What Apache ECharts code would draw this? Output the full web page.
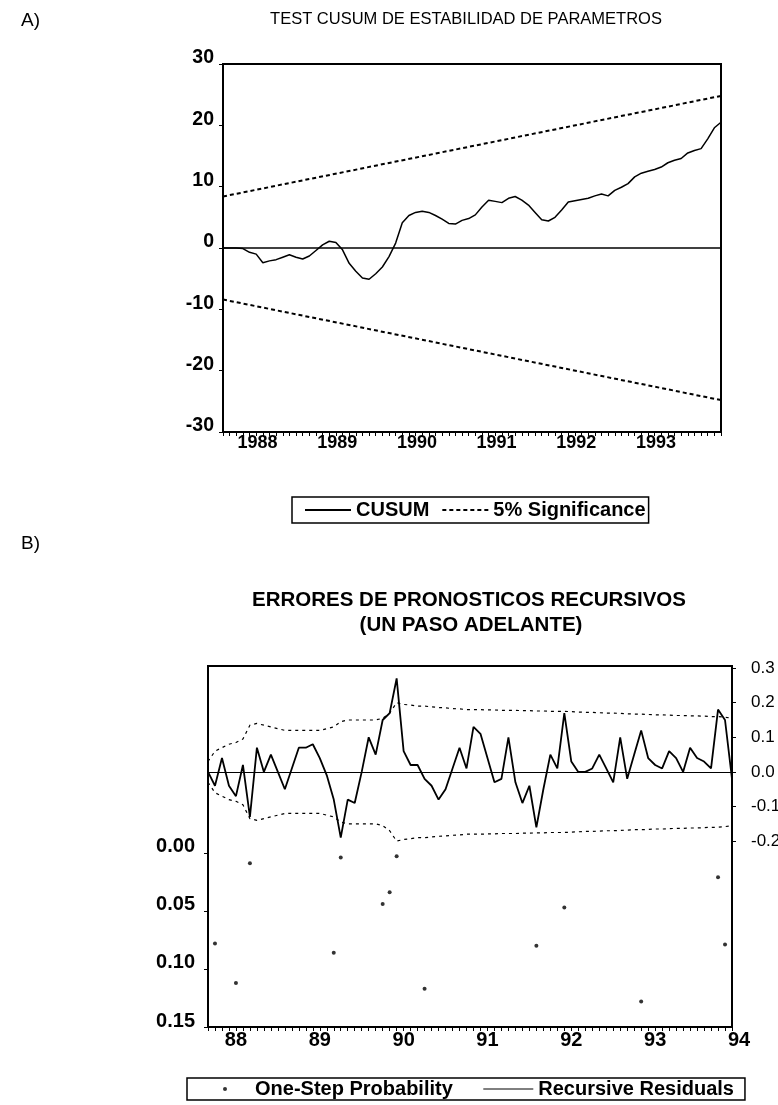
<!DOCTYPE html>
<html><head><meta charset="utf-8">
<script src="https://cdn.jsdelivr.net/npm/echarts@6/dist/echarts.min.js"></script>
<style>html,body{margin:0;padding:0;background:#fff}#c{width:778px;height:1105px}</style>
</head><body><div id="c"></div>
<script>
// ---------- data ----------
// monthly sample 1987M09 .. 1993M12
const months = [];
for (let y = 1987, m = 9; y < 1994;) { months.push(y + 'M' + (m < 10 ? '0' : '') + m); m++; if (m > 12) { m = 1; y++; } }
const labelMonths = months.concat(['1994M01']);

// Panel A: CUSUM
const cusum = [0.0,0.0,0.0,-0.1,-0.7,-1.0,-2.4,-2.1,-1.9,-1.5,-1.1,-1.5,-1.8,-1.3,-0.4,0.5,1.1,0.9,-0.3,-2.5,
  -3.8,-4.9,-5.1,-4.2,-3.1,-1.4,0.8,4.1,5.3,5.8,6.0,5.8,5.3,4.7,4.0,3.9,4.5,4.8,5.4,6.7,
  7.8,7.6,7.4,8.1,8.4,7.8,7.0,5.8,4.6,4.4,5.0,6.2,7.5,7.7,7.9,8.1,8.5,8.8,8.5,9.4,
  9.9,10.5,11.6,12.2,12.5,12.8,13.2,13.9,14.3,14.6,15.5,15.9,16.2,17.8,19.6,20.5];
const sigUpperEnds = [8.4, 24.8];
const sigLowerEnds = [-8.4, -24.8];

// Panel B: recursive residuals, +/- 2 S.E. band, one-step probabilities
const resid = [0.00,-0.04,0.04,-0.04,-0.07,0.02,-0.13,0.07,0.00,0.05,0.00,-0.05,0.01,0.07,0.07,0.08,0.04,-0.01,-0.08,-0.19,
  -0.08,-0.09,0.00,0.10,0.05,0.15,0.17,0.27,0.06,0.02,0.02,-0.02,-0.04,-0.08,-0.05,0.01,0.07,0.01,0.13,0.11,
  0.04,-0.03,-0.02,0.10,-0.03,-0.09,-0.04,-0.16,-0.05,0.05,0.01,0.17,0.03,0.00,0.00,0.01,0.05,0.01,-0.03,0.10,
  -0.02,0.05,0.12,0.04,0.02,0.01,0.06,0.04,0.00,0.07,0.04,0.03,0.01,0.18,0.15,-0.02];
const se2 = [0.03,0.06,0.07,0.08,0.085,0.095,0.135,0.14,0.135,0.13,0.125,0.12,0.12,0.12,0.12,0.12,0.12,0.125,0.13,0.145,
  0.15,0.15,0.15,0.15,0.15,0.155,0.17,0.20,0.195,0.193,0.19,0.19,0.188,0.186,0.185,0.183,0.182,0.18,0.18,0.18,
  0.179,0.179,0.178,0.178,0.178,0.177,0.177,0.176,0.176,0.175,0.175,0.175,0.174,0.173,0.172,0.172,0.171,0.17,0.17,0.169,
  0.168,0.167,0.167,0.166,0.165,0.165,0.164,0.163,0.163,0.162,0.162,0.161,0.16,0.16,0.158,0.155];
const probIdx = [1, 4, 6, 18, 19, 25, 26, 27, 31, 47, 51, 62, 73, 74];
const probVal = [0.078,0.112,0.009,0.086,0.004,0.044,0.034,0.003,0.117,0.080,0.047,0.128,0.021,0.079];
const probTicks = [0, 0.05, 0.10, 0.15];
const residTicks = [-0.2, -0.1, 0.0, 0.1, 0.2, 0.3];

// ---------- chart ----------
const FONT = '"Liberation Sans", Arial, Helvetica, sans-serif';
const chart = echarts.init(document.getElementById('c'));
const isJan = (i, v) => String(v).slice(4) === 'M01';
const bold = (s) => ({ fontFamily: FONT, fontSize: s, fontWeight: 'bold', color: '#000' });
const noSym = { opacity: 0 };

const option = {
  animation: false,
  backgroundColor: '#fff',
  graphic: [
    { type: 'text', x: 21, y: 21, style: { text: 'A)', font: '19px ' + FONT, fill: '#000', verticalAlign: 'middle' } },
    { type: 'text', x: 466, y: 19, style: { text: 'TEST CUSUM DE ESTABILIDAD DE PARAMETROS', font: '16.5px ' + FONT, fill: '#000', align: 'center', verticalAlign: 'middle' } },
    { type: 'text', x: 21, y: 544, style: { text: 'B)', font: '19px ' + FONT, fill: '#000', verticalAlign: 'middle' } },
    { type: 'text', x: 469, y: 600, style: { text: 'ERRORES DE PRONOSTICOS RECURSIVOS', font: 'bold 20.5px ' + FONT, fill: '#000', align: 'center', verticalAlign: 'middle' } },
    { type: 'text', x: 471, y: 625, style: { text: '(UN PASO ADELANTE)', font: 'bold 20.5px ' + FONT, fill: '#000', align: 'center', verticalAlign: 'middle' } }
  ],
  legend: [
    { data: [{ name: 'CUSUM', itemStyle: noSym }, { name: '5% Significance', itemStyle: noSym }],
      left: 292, top: 497, orient: 'horizontal',
      padding: [3, 3, 3, 12], itemGap: 12, itemWidth: 46, itemHeight: 4,
      borderColor: '#000', borderWidth: 1.5, textStyle: bold(20), selectedMode: false },
    { data: [{ name: 'One-Step Probability', icon: 'circle' }, { name: 'Recursive Residuals', lineStyle: { width: 1 }, itemStyle: noSym }],
      left: 187, top: 1078, orient: 'horizontal',
      padding: [1, 11, 1, 36], itemGap: 30, itemWidth: 50, itemHeight: 4,
      borderColor: '#000', borderWidth: 1.5, textStyle: bold(20), selectedMode: false }
  ],
  grid: [
    { left: 223, right: 57, top: 64, bottom: 673, show: true, borderColor: '#000', borderWidth: 2, containLabel: false, outerBoundsMode: 'none' },
    { left: 208, right: 46, top: 666, bottom: 78, show: true, borderColor: '#000', borderWidth: 2, containLabel: false, outerBoundsMode: 'none' },
    { left: 208, right: 39, top: 666, bottom: 78, show: false, containLabel: false, outerBoundsMode: 'none' }
  ],
  xAxis: [
    { gridIndex: 0, type: 'category', data: months, boundaryGap: false,
      axisLine: { onZero: false, lineStyle: { color: '#000', width: 2 } },
      axisTick: { show: true, interval: 0, length: 4, lineStyle: { color: '#000', width: 1 } },
      axisLabel: Object.assign({ interval: isJan, formatter: v => v.slice(0, 4), margin: 2, padding: [0, 0, 0, 16] }, bold(18)),
      splitLine: { show: false } },
    { gridIndex: 1, type: 'category', data: months, boundaryGap: false,
      axisLine: { onZero: false, lineStyle: { color: '#000', width: 2 } },
      axisTick: { show: true, interval: 0, length: 4, lineStyle: { color: '#000', width: 1 } },
      axisLabel: { show: false }, splitLine: { show: false } },
    { gridIndex: 2, type: 'category', data: labelMonths, boundaryGap: false,
      axisLine: { show: false, onZero: false }, axisTick: { show: false },
      axisLabel: Object.assign({ interval: isJan, formatter: v => v.slice(2, 4), margin: 3 }, bold(20)),
      splitLine: { show: false } }
  ],
  yAxis: [
    { gridIndex: 0, type: 'value', min: -30, max: 30, interval: 10,
      axisLine: { show: true, lineStyle: { color: '#000', width: 2 } },
      axisTick: { show: true, length: 4, lineStyle: { color: '#000', width: 1 } },
      axisLabel: Object.assign({ margin: 9, verticalAlign: 'bottom', lineHeight: 12 }, bold(19.5)),
      splitLine: { show: false } },
    { gridIndex: 1, type: 'value', position: 'left', inverse: true, min: -0.161, max: 0.15,
      axisLine: { show: true, lineStyle: { color: '#000', width: 2 } },
      axisTick: { show: true, length: 4, customValues: probTicks, lineStyle: { color: '#000', width: 1 } },
      axisLabel: Object.assign({ customValues: probTicks, formatter: v => v.toFixed(2), margin: 13, verticalAlign: 'bottom', lineHeight: 12 }, bold(20)),
      splitLine: { show: false } },
    { gridIndex: 1, type: 'value', position: 'right', min: -0.737, max: 0.306,
      axisLine: { show: true, lineStyle: { color: '#000', width: 2 } },
      axisTick: { show: true, length: 4, customValues: residTicks, lineStyle: { color: '#000', width: 1 } },
      axisLabel: { customValues: residTicks, formatter: v => v.toFixed(1), margin: 19, fontFamily: FONT, fontSize: 17, color: '#000' },
      splitLine: { show: false } },
    { gridIndex: 2, type: 'value', show: false, min: 0, max: 1 }
  ],
  series: [
    { name: 'CUSUM', type: 'line', xAxisIndex: 0, yAxisIndex: 0, data: cusum, symbol: 'none',
      lineStyle: { color: '#000', width: 1.5 }, itemStyle: { color: '#000' },
      markLine: { silent: true, symbol: 'none', label: { show: false },
        lineStyle: { color: '#000', width: 1.5, type: 'solid' }, data: [{ yAxis: 0 }] } },
    { name: '5% Significance', type: 'line', xAxisIndex: 0, yAxisIndex: 0,
      data: [[0, sigUpperEnds[0]], [months.length - 1, sigUpperEnds[1]]], symbol: 'none',
      lineStyle: { color: '#000', width: 2, type: [4, 3] }, itemStyle: { color: '#000' } },
    { name: '5% Significance', type: 'line', xAxisIndex: 0, yAxisIndex: 0,
      data: [[0, sigLowerEnds[0]], [months.length - 1, sigLowerEnds[1]]], symbol: 'none',
      lineStyle: { color: '#000', width: 2, type: [4, 3] }, itemStyle: { color: '#000' } },

    { name: 'Recursive Residuals', type: 'line', xAxisIndex: 1, yAxisIndex: 2, data: resid, symbol: 'none',
      lineStyle: { color: '#000', width: 1.8 }, itemStyle: { color: '#000' },
      markLine: { silent: true, symbol: 'none', label: { show: false },
        lineStyle: { color: '#000', width: 1, type: 'solid' }, data: [{ yAxis: 0 }] } },
    { name: '+2 S.E.', type: 'line', xAxisIndex: 1, yAxisIndex: 2, data: se2, symbol: 'none',
      lineStyle: { color: '#000', width: 1.2, type: [3, 4] } },
    { name: '-2 S.E.', type: 'line', xAxisIndex: 1, yAxisIndex: 2, data: se2.map(v => -v), symbol: 'none',
      lineStyle: { color: '#000', width: 1.2, type: [3, 4] } },
    { name: 'One-Step Probability', type: 'scatter', xAxisIndex: 1, yAxisIndex: 1,
      data: probIdx.map((i, k) => [i, probVal[k]]), symbol: 'circle', symbolSize: 4, symbolKeepAspect: true,
      itemStyle: { color: '#000' } }
  ]
};
chart.setOption(option);
</script>
</body></html>
